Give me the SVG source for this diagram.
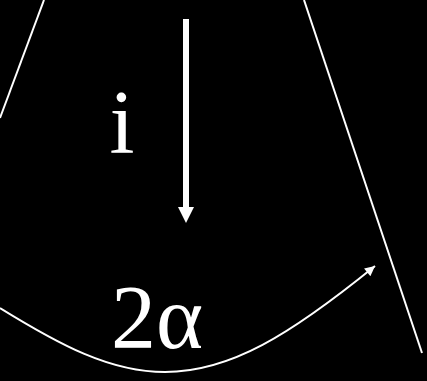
<svg xmlns="http://www.w3.org/2000/svg" width="427" height="381" viewBox="0 0 427 381">
<style>
.ln{stroke:#fff;stroke-width:2;fill:none}
.lbl{fill:#fff;font-family:"Liberation Serif","Times New Roman",serif;font-size:90px}
</style>
<defs>
<marker id="ah" viewBox="0 0 10 10" refX="10" refY="5" markerWidth="6" markerHeight="5" orient="auto" markerUnits="strokeWidth">
<path d="M0,0 L10,5 L0,10 Z" fill="#fff"/>
</marker>
</defs>
<rect width="427" height="381" fill="#000"/>
<g id="left-line"><line class="ln" x1="44" y1="0" x2="0" y2="118"/></g>
<g id="right-line"><line class="ln" x1="304" y1="0" x2="422" y2="353"/></g>
<g id="connectors">
<line x1="186" y1="19" x2="186" y2="208" stroke="#fff" stroke-width="6"/>
<path d="M178,207 L194,207 L186,223 Z" fill="#fff"/>
<path class="ln" d="M0,308 C60,345 110,372 165,372 C230,372 290,335 375,266" marker-end="url(#ah)"/>
</g>
<g id="label-i"><text class="lbl" x="122" y="153" text-anchor="middle">i</text></g>
<g id="label-2a"><text class="lbl" x="157" y="348" text-anchor="middle">2α</text></g>
</svg>
